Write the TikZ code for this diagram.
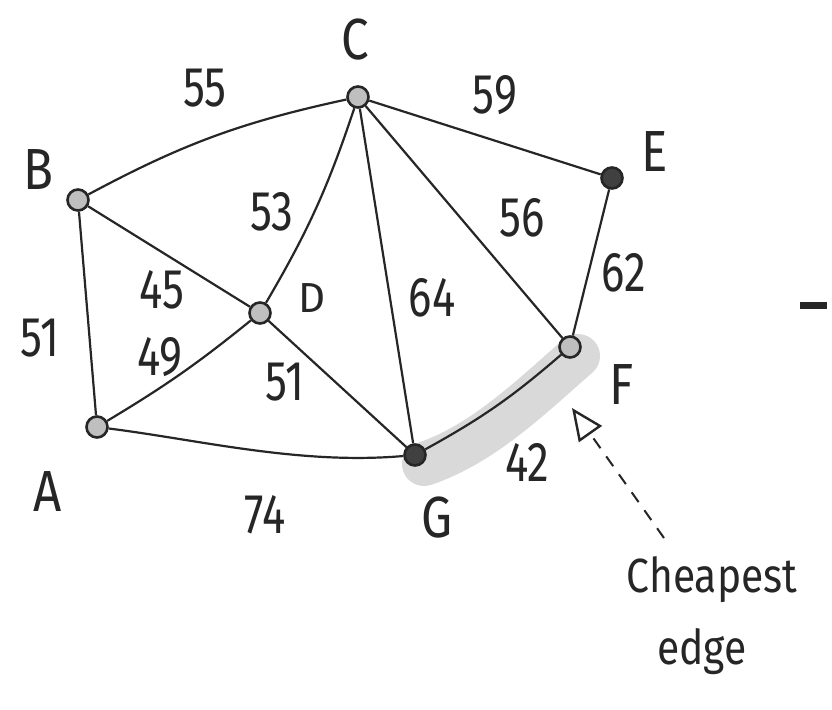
\documentclass[tikz,border=0pt]{standalone}
\usepackage{fontspec}
\setmainfont{Fira Sans}
\usetikzlibrary{arrows.meta}
\begin{document}
\begin{tikzpicture}[x=1pt,y=-1pt,
  vtx/.style={circle,draw=black!85,line width=2.6pt,minimum size=21pt,inner sep=0pt,fill=black!25},
  vtxdark/.style={vtx,fill=black!75},
  edge/.style={line width=2.2pt,draw=black!85},
  lab/.style={font=\fontsize{58}{58}\selectfont\addfontfeature{FakeStretch=0.85},text=black!85,inner sep=0pt},
  wt/.style={font=\fontsize{56}{56}\selectfont\addfontfeature{FakeStretch=0.78},text=black!85,inner sep=0pt},
  note/.style={font=\fontsize{48}{48}\selectfont\addfontfeature{FakeStretch=0.85},text=black!85,inner sep=0pt}]
\useasboundingbox (0,0) rectangle (832,709);
\fill[white] (0,0) rectangle (832,709);
% highlight band
\coordinate (hg) at (424,464);
\coordinate (hf) at (578,356);
\draw[line width=44pt,black!15,line cap=round] (hg) .. controls (484,444) and (534,394) .. (hf);
% vertices
\node[vtx] (C) at (358,97) {};
\node[vtx] (B) at (78,200) {};
\node[vtxdark] (E) at (612,178) {};
\node[vtx] (D) at (260,313) {};
\node[vtx] (F) at (570,347) {};
\node[vtx] (A) at (97,427) {};
\node[vtxdark] (G) at (415,455) {};
% edges
\draw[edge] (B) to[bend left=8] (C);
\draw[edge] (C) -- (E);
\draw[edge] (C) to[bend left=6] (D);
\draw[edge] (C) -- (G);
\draw[edge] (C) -- (F);
\draw[edge] (E) -- (F);
\draw[edge] (B) -- (A);
\draw[edge] (B) -- (D);
\draw[edge] (D) -- (G);
\draw[edge] (A) to[bend right=4] (D);
\draw[edge] (A) .. controls (200,440) and (300,465) .. (G);
\draw[edge] (G) to[bend right=6] (F);
% vertex labels
\node[lab] (lC) at (355,40) {C};
\node[lab] (lB) at (38,170) {B};
\node[lab] (lE) at (655,152) {E};
\node[lab,font=\fontsize{42}{42}\selectfont] (lD) at (312,298) {D};
\node[lab] (lF) at (622,385) {F};
\node[lab] (lA) at (48,492) {A};
\node[lab] (lG) at (437,518) {G};
% weights
\node[wt] (w55) at (205,88) {55};
\node[wt] (w59) at (495,95) {59};
\node[wt] (w53) at (272,212) {53};
\node[wt] (w56) at (522,218) {56};
\node[wt] (w62) at (624,273) {62};
\node[wt] (w45) at (162,290) {45};
\node[wt] (w49) at (160,357) {49};
\node[wt] (w51a) at (40,338) {51};
\node[wt] (w64) at (432,298) {64};
\node[wt] (w51b) at (285,382) {51};
\node[wt] (w74) at (265,515) {74};
\node[wt] (w42) at (527,462) {42};
% note
\node[note] (n1) at (712,580) {Cheapest};
\node[note] (n2) at (702,652) {edge};
\coordinate (tail) at (664,538);
\coordinate (tip) at (572,408);
\draw[line width=2pt,black!85,dash pattern=on 12pt off 10pt,-{Triangle[open,length=32pt,width=28pt,line width=2.4pt]}] (tail) -- (tip);
% stray dash
\fill[black!85] (800,302) rectangle (827,309);
\end{tikzpicture}
\end{document}
